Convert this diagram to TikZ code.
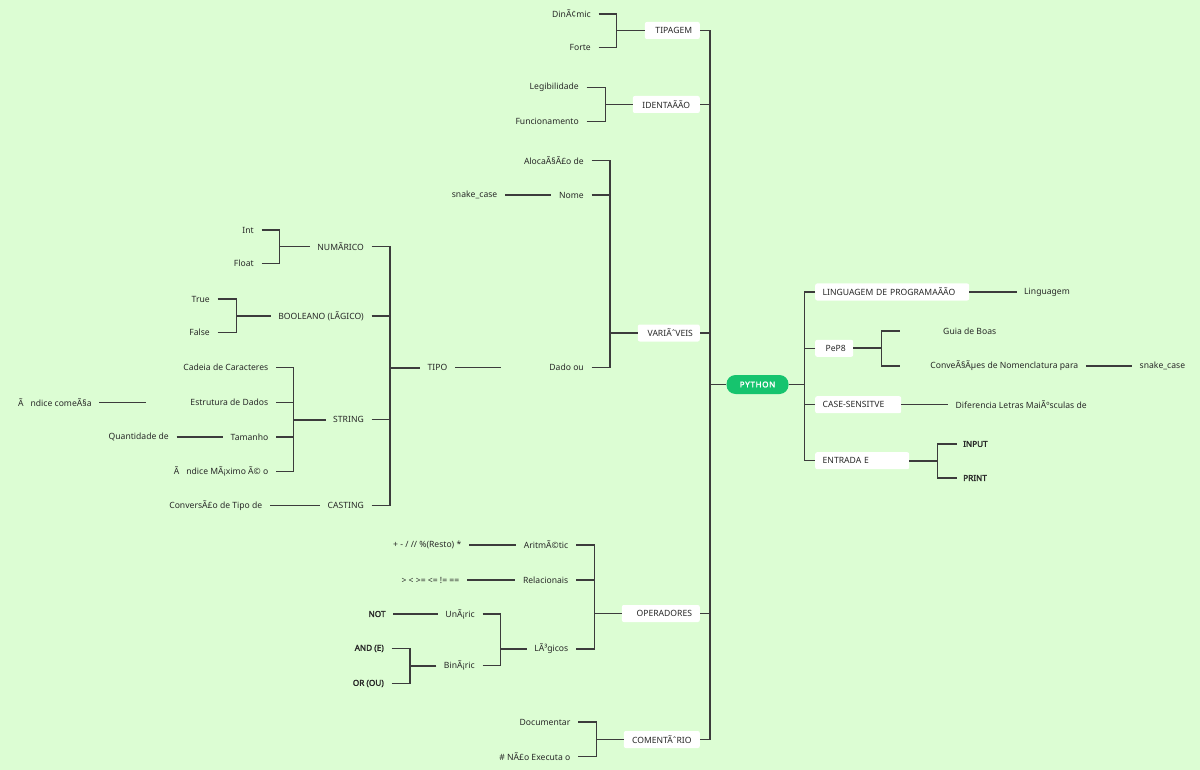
\documentclass[tikz,border=0pt]{standalone}
\usepackage{fontspec}
\setmainfont{Noto Sans}
\newfontfamily\boldnoto{Noto Sans}[FakeBold=2.2]
\definecolor{bgc}{RGB}{220,253,211}
\definecolor{ln}{RGB}{60,60,60}
\definecolor{txt}{RGB}{40,40,40}
\definecolor{pyg}{RGB}{22,196,110}
\begin{document}
\begin{tikzpicture}[x=1pt,y=-1pt,
  lbl/.style={font=\fontsize{8.6}{10}\selectfont, text=txt, inner xsep=7.5pt, inner ysep=2pt},
  bld/.style={lbl, font=\fontsize{8.2}{10}\selectfont\boldnoto},
  lbox/.style={lbl, fill=white, rounded corners=2pt, minimum height=17pt, inner xsep=0pt},
  rbox/.style={lbl, fill=white, rounded corners=2pt, minimum height=17pt, inner xsep=7.5pt, align=left},
  root/.style={fill=pyg, text=white, rounded corners=9pt, minimum width=62pt, minimum height=19pt, inner sep=0pt, font=\fontsize{8}{10}\selectfont\boldnoto},
  ln1/.style={draw=ln, line width=1.3pt},
  ln2/.style={draw=ln, line width=1.9pt},
]
\fill[bgc] (0,0) rectangle (1200,770);
\useasboundingbox (0,0) rectangle (1200,770);

% root
\node[root] (py) at (757.5,384.5) {P\kern0.7pt Y\kern0.7pt T\kern0.7pt H\kern0.7pt O\kern0.7pt N};
\coordinate (sp) at (710,0);
\coordinate (rs) at (804.3,0);

% left main boxes
\node[lbox, minimum width=55pt, anchor=east] (tip) at (700,30.5) {\hspace{3pt}TIPAGEM};
\node[lbox, minimum width=67pt, anchor=east] (ide) at (700,104.5) {IDENTAÃÃO};
\node[lbox, minimum width=62pt, anchor=east] (var) at (700,333) {\hspace{3pt}VARIÃˆVEIS};
\node[lbox, minimum width=78pt, anchor=east] (ope) at (700,613.5) {\hspace{7pt}OPERADORES};
\node[lbox, minimum width=76pt, anchor=east] (com) at (700,739.5) {COMENTÃˆRIO};

% left spine
\draw[ln1] (tip.east) -| (sp |- com.east) -- (com.east);
\draw[ln1] (ide.east) -- (ide.east -| sp);
\draw[ln1] (var.east) -- (var.east -| sp);
\draw[ln1] (ope.east) -- (ope.east -| sp);
\draw[ln2] (py.west) -- (py.west -| sp);

% right main boxes
\node[rbox, text width=139pt, anchor=west] (lin) at (815,292) {LINGUAGEM DE PROGRAMAÃÃO};
\node[lbox, minimum width=38pt, anchor=west] (pep) at (815,348.3) {\hspace{3pt}PeP8};
\node[rbox, text width=71pt, anchor=west] (cas) at (815,404.7) {CASE-SENSITVE};
\node[rbox, text width=79pt, anchor=west] (ent) at (815,460.7) {ENTRADA E};

\draw[ln1] (lin.west) -| (rs |- ent.west) -- (ent.west);
\draw[ln1] (pep.west) -- (pep.west -| rs);
\draw[ln1] (cas.west) -- (cas.west -| rs);
\draw[ln2] (py.east) -- (py.east -| rs);

% TIPAGEM
\node[lbl, anchor=east] (din) at (598.5,14) {DinÃ¢mic};
\node[lbl, anchor=east] (fort) at (598.5,47.5) {Forte};
\coordinate (bTip) at (616.7,30.5);
\draw[ln2] (tip.west) -- (bTip);
\draw[ln1] (din.east) -| (bTip);
\draw[ln1] (fort.east) -| (bTip);

% IDENTACAO
\node[lbl, anchor=east] (leg) at (586.5,87.3) {Legibilidade};
\node[lbl, anchor=east] (fun) at (586.5,121.5) {Funcionamento};
\coordinate (bIde) at (605.3,104.5);
\draw[ln2] (ide.west) -- (bIde);
\draw[ln1] (leg.east) -| (bIde);
\draw[ln1] (fun.east) -| (bIde);

% VARIAVEIS
\node[lbl, anchor=east] (alo) at (591.5,160.7) {AlocaÃ§Ã£o de};
\node[lbl, anchor=east] (nom) at (591.5,195) {Nome};
\node[lbl, anchor=east, text width=75pt, align=flush right] (dad) at (591.5,367.7) {Dado ou};
\coordinate (bVar) at (610,333);
\draw[ln2] (var.west) -- (bVar);
\draw[ln1] (alo.east) -| (bVar);
\draw[ln1] (nom.east) -| (bVar);
\draw[ln1] (dad.east) -| (bVar);
\node[lbl, anchor=east] (snk) at (505,195) {snake\_case};
\draw[ln1] (snk.east) -- (nom.west);
\node[lbl, anchor=east] (tipo) at (455,367.7) {TIPO};
\draw[ln1] (tipo.east) -- (dad.west);

% TIPO
\coordinate (bTipo) at (390,367.7);
\node[lbl, anchor=east] (num) at (371.5,246.5) {NUMÃRICO};
\node[lbl, anchor=east] (boo) at (371.5,316) {BOOLEANO (LÃGICO)};
\node[lbl, anchor=east] (str) at (371.5,419.7) {STRING};
\node[lbl, anchor=east] (cst) at (371.5,505.7) {CASTING};
\draw[ln2] (tipo.west) -- (bTipo);
\draw[ln1] (num.east) -| (bTipo);
\draw[ln1] (boo.east) -| (bTipo);
\draw[ln1] (str.east) -| (bTipo);
\draw[ln1] (cst.east) -| (bTipo);

% NUMERICO
\node[lbl, anchor=east] (int) at (261.5,230) {Int};
\node[lbl, anchor=east] (flo) at (261.5,263.5) {Float};
\coordinate (bNum) at (279.7,246.5);
\draw[ln2] (num.west) -- (bNum);
\draw[ln1] (int.east) -| (bNum);
\draw[ln1] (flo.east) -| (bNum);

% BOOLEANO
\node[lbl, anchor=east] (tru) at (217.5,299) {True};
\node[lbl, anchor=east] (fal) at (217.5,332.7) {False};
\coordinate (bBoo) at (236.3,316);
\draw[ln2] (boo.west) -- (bBoo);
\draw[ln1] (tru.east) -| (bBoo);
\draw[ln1] (fal.east) -| (bBoo);

% STRING
\node[lbl, anchor=east] (cad) at (276,367.7) {Cadeia de Caracteres};
\node[lbl, anchor=east, text width=115pt, align=flush right] (est) at (276,402.3) {Estrutura de Dados};
\node[lbl, anchor=east] (tam) at (276,437) {Tamanho};
\node[lbl, anchor=east] (imx) at (276,471.7) {Ã\hspace{7pt}ndice MÃ¡ximo Ã© o};
\coordinate (bStr) at (293.7,419.7);
\draw[ln2] (str.west) -- (bStr);
\draw[ln1] (cad.east) -| (bStr);
\draw[ln1] (est.east) -| (bStr);
\draw[ln1] (tam.east) -| (bStr);
\draw[ln1] (imx.east) -| (bStr);
\node[lbl, anchor=east] (ico) at (99.3,402.3) {Ã\hspace{7pt}ndice comeÃ§a};
\draw[ln1] (ico.east) -- (est.west);
\node[lbl, anchor=east] (qtd) at (176.5,437) {Quantidade de};
\draw[ln1] (qtd.east) -- (tam.west);

% CASTING
\node[lbl, anchor=east] (cnv) at (270,505.7) {ConversÃ£o de Tipo de};
\draw[ln1] (cnv.east) -- (cst.west);

% OPERADORES
\node[lbl, anchor=east] (ari) at (576,545) {AritmÃ©tic};
\node[lbl, anchor=east] (rel) at (576,580) {Relacionais};
\node[lbl, anchor=east] (log) at (576,649) {LÃ³gicos};
\coordinate (bOpe) at (594.3,613.5);
\draw[ln2] (ope.west) -- (bOpe);
\draw[ln1] (ari.east) -| (bOpe);
\draw[ln1] (rel.east) -| (bOpe);
\draw[ln1] (log.east) -| (bOpe);
\node[lbl, anchor=east] (ars) at (469,545) {+ - / // \%(Resto) *};
\draw[ln1] (ars.east) -- (ari.west);
\node[lbl, anchor=east] (rls) at (467,580) {> < >= <= != ==};
\draw[ln1] (rls.east) -- (rel.west);

% LOGICOS
\node[lbl, anchor=east] (una) at (482.5,614) {UnÃ¡ric};
\node[lbl, anchor=east] (bin) at (482.5,665.7) {BinÃ¡ric};
\coordinate (bLog) at (500.7,649);
\draw[ln2] (log.west) -- (bLog);
\draw[ln1] (una.east) -| (bLog);
\draw[ln1] (bin.east) -| (bLog);
\node[bld, anchor=east] (nt) at (393.2,614) {NOT};
\draw[ln1] (nt.east) -- (una.west);
\node[bld, anchor=east] (and) at (391.5,648.5) {AND (E)};
\node[bld, anchor=east] (or) at (391.5,683.5) {OR (OU)};
\coordinate (bBin) at (410,665.7);
\draw[ln2] (bin.west) -- (bBin);
\draw[ln1] (and.east) -| (bBin);
\draw[ln1] (or.east) -| (bBin);

% COMENTARIO
\node[lbl, anchor=east] (doc) at (578,722) {Documentar};
\node[lbl, anchor=east] (nex) at (578,756.5) {\# NÃ£o Executa o};
\coordinate (bCom) at (596.7,739.5);
\draw[ln2] (com.west) -- (bCom);
\draw[ln1] (doc.east) -| (bCom);
\draw[ln1] (nex.east) -| (bCom);

% LINGUAGEM
\node[lbl, anchor=west] (lng) at (1016.5,292) {Linguagem};
\draw[ln1] (lin.east) -- (lng.west);

% PEP8
\coordinate (bPep) at (881.7,348.3);
\node[lbl, anchor=west, text width=89pt, align=flush right] (gui) at (899.5,331) {Guia de Boas};
\node[lbl, anchor=west, text width=171pt, align=flush right] (cnm) at (899.5,366) {ConveÃ§Ãµes de Nomenclatura para};
\draw[ln2] (pep.east) -- (bPep);
\draw[ln1] (gui.west) -| (bPep);
\draw[ln1] (cnm.west) -| (bPep);
\node[lbl, anchor=west] (snk2) at (1132,366) {snake\_case};
\draw[ln1] (cnm.east) -- (snk2.west);

% CASE
\node[lbl, anchor=west] (dif) at (948,404.7) {Diferencia Letras MaiÃºsculas de};
\draw[ln1] (cas.east) -- (dif.west);

% ENTRADA
\coordinate (bEnt) at (937.3,460.7);
\node[bld, anchor=west, inner xsep=6.5pt] (inp) at (956.5,444) {INPUT};
\node[bld, anchor=west, inner xsep=6.5pt] (prt) at (956.5,478) {PRINT};
\draw[ln2] (ent.east) -- (bEnt);
\draw[ln1] (inp.west) -| (bEnt);
\draw[ln1] (prt.west) -| (bEnt);
\end{tikzpicture}
\end{document}
